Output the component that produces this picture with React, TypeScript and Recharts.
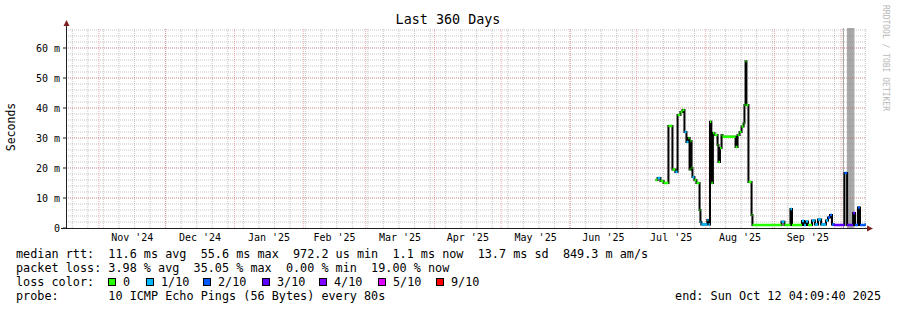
import React from "react";
import { ComposedChart, Line, Area, XAxis, YAxis, ReferenceLine } from "recharts";

const FONT = "'DejaVu Sans Mono', monospace";

// ---- axis / grid definitions (days since start of 360-day window) ----
const monthLabels = ["Nov '24", "Dec '24", "Jan '25", "Feb '25", "Mar '25", "Apr '25", "May '25", "Jun '25", "Jul '25", "Aug '25", "Sep '25"];
const monthLabelDays = [29.83, 60.33, 91.33, 120.83, 150.33, 180.83, 211.33, 241.83, 272.33, 303.33, 333.83];
const monthStartDays = [14.83, 44.83, 75.83, 106.83, 134.83, 165.83, 195.83, 226.83, 256.83, 287.83, 318.83, 348.83];
const firstWeekDay = 2.83;
const weekDays: number[] = [];
for (let d = firstWeekDay; d < 360; d += 7) weekDays.push(d);
const yLabelTicks = [0, 10, 20, 30, 40, 50, 60];
const yMajorGrid = [10, 20, 30, 40, 50, 60];
const yMinorGrid: number[] = [];
for (let v = 2; v <= 66; v += 2) yMinorGrid.push(v);

// ---- median RTT (ms) with loss level index ----
const rttDays = [265.3, 266.2, 267.5, 268.9, 271.1, 272.9, 274.2, 275.2, 276.5, 277.4, 278.3, 279.2, 280.1, 280.6, 281.0, 281.5, 281.9, 282.8, 283.7, 285.1, 285.5, 285.9, 288.6, 289.1, 289.8, 290.4, 291.1, 291.8, 293.2, 293.6, 294.3, 295.0, 295.4, 301.3, 302.2, 303.1, 304.0, 304.9, 305.3, 305.8, 306.2, 307.1, 308.5, 308.9, 322.0, 323.3, 326.0, 326.7, 331.2, 332.1, 333.0, 333.9, 335.7, 337.0, 338.4, 339.8, 342.0, 342.9, 343.8, 344.7, 345.6, 350.3, 351.5, 354.2, 355.1, 356.4, 357.3, 359.5];
const rttMs = [16.0, 16.7, 15.7, 15.0, 34.0, 19.5, 18.7, 37.7, 38.7, 39.3, 32.0, 28.7, 30.0, 19.5, 29.0, 20.0, 17.0, 16.0, 15.0, 6.0, 2.0, 1.2, 2.7, 1.2, 35.4, 15.0, 31.7, 31.0, 27.7, 22.0, 26.7, 31.0, 30.4, 27.0, 31.0, 32.0, 33.8, 34.9, 41.0, 55.6, 41.0, 15.3, 4.3, 1.0, 2.1, 1.0, 6.3, 1.0, 2.3, 1.0, 2.2, 1.0, 2.5, 1.2, 2.8, 1.2, 2.5, 3.5, 4.3, 1.2, 1.0, 18.3, 1.0, 5.0, 1.0, 6.8, 1.0, 1.1];
const rttLoss = [0, 1, 0, 0, 0, 0, 1, 0, 0, 0, 1, 1, 0, 0, 0, 0, 1, 0, 0, 0, 1, 1, 1, 1, 0, 0, 0, 0, 0, 0, 0, 0, 0, 0, 0, 0, 0, 0, 0, 0, 0, 0, 0, 0, 1, 0, 1, 0, 1, 1, 1, 0, 1, 1, 1, 1, 1, 2, 2, 2, 3, 2, 3, 3, 2, 2, 2, 2];
const END_DAY = 360;

// ---- smoke (ping spread), ms ----
const smokeDays = [349.6, 350.1, 351.4, 354.8];
const smokeMs = [70, 0, 70, 0];

const lossColors = ["#26ff00", "#00b8ff", "#0059ff", "#5e00ff", "#7e00ff", "#dd00ff", "#ff0000"];
const lossLabels = ["0", "1/10", "2/10", "3/10", "4/10", "5/10", "9/10"];

// derived tables
const medianData = rttDays.map((d, i) => ({ day: d, ms: rttMs[i] }));
medianData.push({ day: END_DAY, ms: rttMs[rttMs.length - 1] });
const smokeData = smokeDays.map((d, i) => ({ day: d, v: smokeMs[i] }));
const levelData = [0, 1, 2, 3].map((lvl) => {
  const out: { day: number; v: number | null }[] = [];
  rttDays.forEach((d, i) => {
    if (rttLoss[i] !== lvl) return;
    const next = i + 1 < rttDays.length ? rttDays[i + 1] : END_DAY;
    out.push({ day: d, v: rttMs[i] });
    out.push({ day: next, v: rttMs[i] });
    out.push({ day: next, v: null });
  });
  return out;
});

const GRID = "rgba(143,143,143,0.5)";
const MGRID = "rgba(222,79,79,0.45)";

const legendBoxX = [108, 146, 203, 262, 319, 378, 436];

export default function App() {
  return (
    <div style={{ position: "absolute", left: 0, top: 0, width: 897, height: 310, background: "#fff" }}>
      <ComposedChart width={897} height={310} margin={{ top: 28, right: 31, bottom: 62, left: 0 }} data={medianData}>
        <XAxis
          dataKey="day"
          type="number"
          domain={[0, 360]}
          allowDataOverflow
          ticks={monthLabelDays}
          interval={0}
          tickFormatter={(v: number) => monthLabels[monthLabelDays.indexOf(v)] ?? ""}
          tickLine={false}
          tickSize={0}
          tickMargin={6}
          axisLine={false}
          height={20}
          tick={{ fontSize: 10, fontFamily: FONT, fill: "#000" }}
        />
        <YAxis
          type="number"
          domain={[0, 66.667]}
          allowDataOverflow
          ticks={yLabelTicks}
          interval={0}
          tickFormatter={(v: number) => (v === 0 ? "0" : `${v} m`)}
          width={66}
          tickSize={3}
          tickMargin={3}
          axisLine={false}
          tickLine={{ stroke: "#1f1f1f" }}
          tick={{ fontSize: 10, fontFamily: FONT, fill: "#000" }}
        />
        {yMinorGrid.map((v) => (
          <ReferenceLine key={"hy" + v} y={v} stroke={GRID} strokeDasharray="1 1" strokeWidth={1} />
        ))}
        {weekDays.map((d) => (
          <ReferenceLine key={"vx" + d} x={d} stroke={GRID} strokeDasharray="1 1" strokeWidth={1} />
        ))}
        {yMajorGrid.map((v) => (
          <ReferenceLine key={"my" + v} y={v} stroke={MGRID} strokeDasharray="1 1" strokeWidth={1} />
        ))}
        {monthStartDays.map((d) => (
          <ReferenceLine key={"mx" + d} x={d} stroke={MGRID} strokeDasharray="1 1" strokeWidth={1} />
        ))}
        <Area
          data={smokeData}
          dataKey="v"
          type="stepAfter"
          fill="#aaaaaa"
          fillOpacity={1}
          stroke="none"
          isAnimationActive={false}
          dot={false}
          activeDot={false}
        />
        <Line dataKey="ms" type="stepAfter" stroke="#000" strokeWidth={2} dot={false} activeDot={false} isAnimationActive={false} />
        {levelData.map((data, lvl) => (
          <Line
            key={"lvl" + lvl}
            data={data}
            dataKey="v"
            type="linear"
            stroke={lossColors[lvl]}
            strokeWidth={2.5}
            dot={false}
            activeDot={false}
            connectNulls={false}
            isAnimationActive={false}
          />
        ))}
      </ComposedChart>
      <svg width={897} height={310} style={{ position: "absolute", left: 0, top: 0, pointerEvents: "none" }}>
        <text x={448} y={24} textAnchor="middle" fontFamily={FONT} fontSize={13.4} fill="#000">
          Last 360 Days
        </text>
        <text x={15} y={127} textAnchor="middle" fontFamily={FONT} fontSize={11.5} fill="#000" transform="rotate(-90 15 127)">
          Seconds
        </text>
        <text x={883} y={5} fontFamily={FONT} fontSize={8} fill="#b8b8b8" transform="rotate(90 883 5)">
          RRDTOOL / TOBI OETIKER
        </text>
        {/* axes */}
        <line x1={66.5} y1={228} x2={66.5} y2={24} stroke="#1f1f1f" strokeWidth={1} />
        <polygon points="63.5,26 69.5,26 66.5,20" fill="#7f1f1f" />
        <line x1={61} y1={228.5} x2={868} y2={228.5} stroke="#1f1f1f" strokeWidth={1} />
        <polygon points="867,225.5 867,231.5 873,228.5" fill="#7f1f1f" />
        {/* legend */}
        <g fontFamily={FONT} fontSize={11.8} fill="#000" style={{ whiteSpace: "pre" }}>
          <text x={16} y={258} xmlSpace="preserve">
            {"median rtt:  11.6 ms avg  55.6 ms max  972.2 us min  1.1 ms now  13.7 ms sd  849.3 m am/s"}
          </text>
          <text x={16} y={272} xmlSpace="preserve">
            {"packet loss: 3.98 % avg  35.05 % max  0.00 % min  19.00 % now"}
          </text>
          <text x={16} y={286} xmlSpace="preserve">
            {"loss color:"}
          </text>
          {lossLabels.map((lbl, i) => (
            <g key={lbl}>
              <rect x={legendBoxX[i] + 0.5} y={278.5} width={7} height={7} fill={lossColors[i]} stroke="#000" strokeWidth={1} />
              <text x={legendBoxX[i] + 15} y={286}>
                {lbl}
              </text>
            </g>
          ))}
          <text x={16} y={300} xmlSpace="preserve">
            {"probe:       10 ICMP Echo Pings (56 Bytes) every 80s"}
          </text>
          <text x={881} y={300} textAnchor="end" xmlSpace="preserve">
            {"end: Sun Oct 12 04:09:40 2025"}
          </text>
        </g>
      </svg>
    </div>
  );
}
